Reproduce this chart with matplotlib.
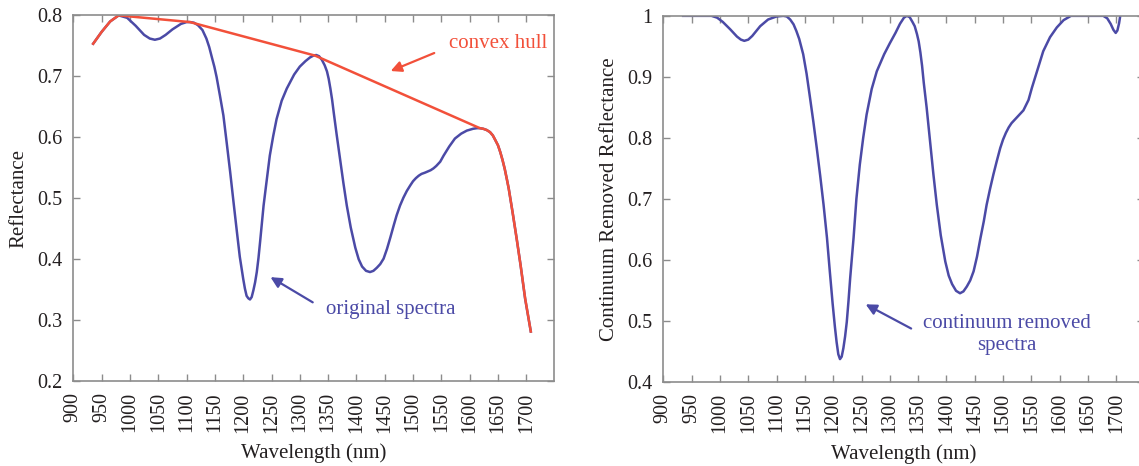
import matplotlib
matplotlib.use("Agg")
import matplotlib.pyplot as plt

# original spectrum
wl = [935, 950, 965, 980, 995, 1010, 1025, 1035, 1044, 1053, 1063, 1075, 1090,
      1100, 1106, 1113, 1120, 1128, 1135, 1140, 1145, 1149, 1153, 1159, 1165,
      1171, 1177, 1183, 1189, 1194, 1200, 1203, 1206, 1209, 1212, 1215, 1218,
      1221, 1224, 1227, 1230, 1233, 1236, 1240, 1247, 1253, 1259, 1268, 1277,
      1290, 1300, 1310, 1318, 1324, 1329, 1334, 1339, 1344, 1348, 1351, 1354,
      1357, 1360, 1365, 1371, 1377, 1383, 1390, 1398, 1404, 1410, 1417, 1424,
      1430, 1436, 1442, 1448, 1454, 1460, 1466, 1471, 1477, 1483, 1489, 1495,
      1500, 1505, 1510, 1515, 1521, 1526, 1531, 1536, 1541, 1548, 1554, 1564,
      1574, 1585, 1595, 1606, 1613, 1618, 1624, 1630, 1636, 1641, 1645, 1650,
      1654, 1658, 1662, 1666, 1669, 1676, 1683, 1690, 1698, 1708]
refl = [0.7535, 0.773, 0.790, 0.800, 0.796, 0.783, 0.768, 0.762, 0.760, 0.762,
        0.768, 0.777, 0.786, 0.789, 0.789, 0.788, 0.784, 0.776, 0.762, 0.748,
        0.730, 0.716, 0.699, 0.668, 0.636, 0.590, 0.543, 0.493, 0.444, 0.404,
        0.368, 0.352, 0.340, 0.336, 0.334, 0.338, 0.349, 0.362, 0.379, 0.402,
        0.430, 0.459, 0.488, 0.518, 0.570, 0.602, 0.630, 0.660, 0.680, 0.703,
        0.716, 0.725, 0.731, 0.734, 0.735, 0.733, 0.727, 0.718, 0.708, 0.696,
        0.680, 0.662, 0.640, 0.605, 0.565, 0.525, 0.488, 0.452, 0.419, 0.400,
        0.388, 0.381, 0.379, 0.381, 0.386, 0.392, 0.401, 0.417, 0.436, 0.456,
        0.472, 0.488, 0.501, 0.512, 0.521, 0.528, 0.533, 0.537, 0.540, 0.542,
        0.544, 0.546, 0.549, 0.553, 0.560, 0.570, 0.585, 0.598, 0.606, 0.611,
        0.614, 0.615, 0.615, 0.614, 0.612, 0.6085, 0.603, 0.596, 0.587, 0.576,
        0.563, 0.548, 0.530, 0.516, 0.476, 0.434, 0.390, 0.335, 0.2815]

# convex hull
hull_wl = [935, 950, 965, 980, 1106, 1327, 1618, 1624, 1630, 1636, 1641, 1645,
           1650, 1654, 1658, 1662, 1666, 1669, 1676, 1683, 1690, 1698, 1708]
hull_r = [0.7535, 0.773, 0.790, 0.800, 0.789, 0.734, 0.615, 0.614, 0.612,
          0.6085, 0.603, 0.596, 0.587, 0.576, 0.563, 0.548, 0.530, 0.516,
          0.476, 0.434, 0.390, 0.336, 0.2815]

# continuum removed spectrum (right panel)
cr_wl = [935, 950, 970, 985, 995, 1005, 1018, 1030, 1037, 1043, 1050, 1057,
         1064, 1071, 1085, 1100, 1112, 1118, 1124, 1130, 1135, 1140, 1147, 1153,
         1159, 1165, 1171, 1177, 1183, 1189, 1194, 1199, 1203, 1206, 1209, 1212,
         1215, 1218, 1221, 1224, 1227, 1230, 1233, 1236, 1241, 1247, 1253, 1259,
         1268, 1277, 1290, 1300, 1310, 1318, 1325, 1330, 1335, 1340, 1344, 1348,
         1351, 1354, 1357, 1360, 1365, 1371, 1377, 1383, 1390, 1398, 1404, 1410,
         1417, 1424, 1430, 1436, 1442, 1448, 1454, 1460, 1466, 1471, 1477, 1483,
         1489, 1495, 1500, 1505, 1510, 1515, 1520, 1525, 1530, 1536, 1545, 1551,
         1561, 1571, 1583, 1595, 1607, 1620, 1640, 1660, 1677, 1684, 1690, 1695,
         1699, 1702, 1705, 1707]
cr = [1.0, 1.0, 1.0, 1.0, 0.997, 0.990, 0.978, 0.966, 0.961, 0.959, 0.961,
      0.967, 0.975, 0.983, 0.994, 0.999, 1.0, 0.999, 0.994, 0.986, 0.975, 0.962,
      0.937, 0.905, 0.866, 0.826, 0.783, 0.738, 0.690, 0.636, 0.581, 0.528,
      0.490, 0.465, 0.445, 0.437, 0.441, 0.455, 0.474, 0.498, 0.532, 0.570,
      0.603, 0.636, 0.700, 0.756, 0.800, 0.838, 0.880, 0.909, 0.937, 0.955,
      0.972, 0.987, 0.997, 1.0, 0.998, 0.990, 0.983, 0.970, 0.958, 0.940,
      0.918, 0.890, 0.850, 0.795, 0.740, 0.690, 0.640, 0.597, 0.574, 0.560,
      0.549, 0.545, 0.548, 0.556, 0.566, 0.581, 0.605, 0.635, 0.663, 0.690,
      0.716, 0.740, 0.762, 0.783, 0.797, 0.808, 0.817, 0.824, 0.829, 0.834,
      0.839, 0.845, 0.862, 0.882, 0.912, 0.942, 0.965, 0.981, 0.993, 1.0, 1.0,
      1.0, 1.0, 0.996, 0.987, 0.977, 0.972, 0.976, 0.988, 1.0]

xticks = list(range(900, 1701, 50))
left_yticks = [0.2, 0.3, 0.4, 0.5, 0.6, 0.7, 0.8]
right_yticks = [0.4, 0.5, 0.6, 0.7, 0.8, 0.9, 1.0]
right_ylabels = ["0.4", "0.5", "0.6", "0.7", "0.8", "0.9", "1"]

blue = "#4b4aa6"
red = "#f2503a"
txt = "#231f20"
edge = "#8c8c8c"

plt.rcParams['font.family'] = ['Liberation Serif', 'DejaVu Serif']
plt.rcParams['font.size'] = 14

fig = plt.figure(figsize=(11.39, 4.66), dpi=100)
ax1 = fig.add_axes([0.0644, 0.182, 0.422, 0.785])
ax2 = fig.add_axes([0.5824, 0.181, 0.422, 0.785])


def style(ax):
    for s in ax.spines.values():
        s.set_color(edge)
        s.set_linewidth(1.2)
    ax.tick_params(direction='in', length=5, width=1, color=edge,
                   top=True, right=True, labelcolor=txt, labelsize=14.5, pad=8)
    ax.set_xticks(xticks)
    ax.set_xticklabels([str(t) for t in xticks], rotation=90)
    ax.set_xlim(900, 1749)
    ax.set_xlabel("Wavelength (nm)", color=txt, fontsize=15, labelpad=8)


style(ax1)
ax1.plot(wl, refl, color=blue, lw=1.8)
ax1.plot(hull_wl, hull_r, color=red, lw=1.8)
ax1.set_ylim(0.2, 0.8)
ax1.set_yticks(left_yticks)
ax1.set_yticklabels(["0.2", "0.3", "0.4", "0.5", "0.6", "0.7", "0.8"])
ax1.set_ylabel("Reflectance", color=txt, fontsize=15, labelpad=6)
ax1.annotate("", xy=(1456, 0.707), xytext=(1542, 0.740),
             arrowprops=dict(arrowstyle="-|>", color=red, lw=1.6,
                             mutation_scale=16))
ax1.text(1564, 0.7545, "convex hull", color=red, fontsize=15,
         ha='left', va='center')
ax1.annotate("", xy=(1244, 0.373), xytext=(1327, 0.327),
             arrowprops=dict(arrowstyle="-|>", color=blue, lw=1.6,
                             mutation_scale=16))
ax1.text(1346, 0.3176, "original spectra", color=blue, fontsize=15,
         ha='left', va='center')

style(ax2)
ax2.plot(cr_wl, cr, color=blue, lw=1.8)
ax2.set_ylim(0.4, 1.0)
ax2.set_yticks(right_yticks)
ax2.set_yticklabels(right_ylabels)
ax2.set_ylabel("Continuum Removed Reflectance", color=txt, fontsize=15,
               labelpad=6)
ax2.annotate("", xy=(1253, 0.529), xytext=(1342, 0.485),
             arrowprops=dict(arrowstyle="-|>", color=blue, lw=1.6,
                             mutation_scale=16))
ax2.text(1506, 0.477, "continuum removed\nspectra", color=blue, fontsize=15,
         ha='center', va='center', multialignment='center', linespacing=1.2)

fig.savefig("out.png", dpi=100)
